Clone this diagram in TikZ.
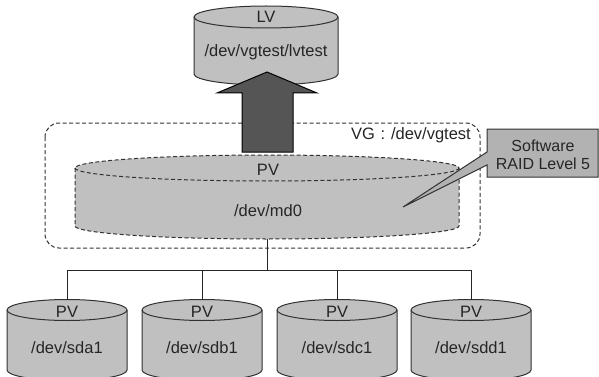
\documentclass[tikz,border=0pt]{standalone}
\usepackage{fontspec}
\setmainfont{Liberation Sans}
\definecolor{diskgray}{RGB}{192,192,192}
\definecolor{arrowgray}{RGB}{85,85,85}
\definecolor{callgray}{RGB}{178,178,178}
\definecolor{edgegray}{RGB}{50,50,50}
\newcommand{\cylshape}[6]{% #1 style, #2 cx, #3 cyt, #4 rx, #5 ry, #6 cyb
  \path[#1] ({#2-#4},#3) -- ({#2-#4},#6)
    arc[start angle=180,end angle=0,x radius=#4,y radius=#5]
    -- ({#2+#4},#3)
    arc[start angle=0,end angle=-180,x radius=#4,y radius=#5] -- cycle;
  \path[#1,fill=none] ({#2-#4},#3)
    arc[start angle=180,end angle=0,x radius=#4,y radius=#5];
}
\begin{document}
\begin{tikzpicture}[x=1pt,y=-1pt,
  disk/.style={draw=edgegray,line width=1pt,fill=diskgray},
  dashdisk/.style={draw=edgegray,line width=1pt,fill=diskgray,dash pattern=on 4pt off 2.5pt},
  lbl/.style={font=\fontsize{16.5}{19}\selectfont,text=black!85,inner sep=0pt},
  wire/.style={draw=black!85,line width=1pt}]
\path[use as bounding box,clip] (0,0) rectangle (599,377);

% VG group
\draw[draw=edgegray,line width=1pt,dash pattern=on 4pt off 2.5pt,rounded corners=14pt]
  (45,123) rectangle (480,248);
\node[lbl,anchor=east] (vg) at (471,135) {VG\hspace{0.35em}:\hspace{0.35em}/dev/vgtest};

% md0
\cylshape{dashdisk}{267}{168}{192}{13}{226}
\node[lbl] (md0pv) at (268,170) {PV};
\node[lbl] (md0) at (268,211) {/dev/md0};

% LV
\cylshape{disk}{266}{17}{72}{11}{74}
\node[lbl] (lvl) at (266,17) {LV};
\node[lbl] (lv) at (266,52) {/dev/vgtest/lvtest};

% big arrow
\draw[draw=black,line width=1pt,fill=arrowgray]
  (242,152) -- (242,93) -- (217,93) -- (267,72) -- (317,93) -- (293,93) -- (293,152) -- cycle;

% callout
\draw[draw=edgegray,line width=1pt,fill=callgray]
  (487,129) -- (598,129) -- (598,177) -- (487,177) -- (487,165) -- (403,207) -- (487,152) -- cycle;
\node[lbl,align=center,font=\fontsize{16}{18.5}\selectfont] (raid) at (543,155) {Software\\RAID Level 5};

% disks
\foreach \cx/\nm in {67/sda1,202/sdb1,337/sdc1,471/sdd1}{
  \cylshape{disk}{\cx}{310}{60}{10.5}{370}
  \node[lbl] (\nm pv) at (\cx,312) {PV};
  \node[lbl] (\nm) at (\cx,348) {/dev/\nm};
  \coordinate (\nm top) at (\cx,300);
}

% connectors
\coordinate (md0bot) at (267,239);
\coordinate (bus) at (267,270);
\draw[wire] (md0bot) -- (bus);
\draw[wire] (sda1top) |- (bus);
\draw[wire] (sdb1top) |- (bus);
\draw[wire] (sdc1top) |- (bus);
\draw[wire] (sdd1top) |- (bus);
\end{tikzpicture}
\end{document}
